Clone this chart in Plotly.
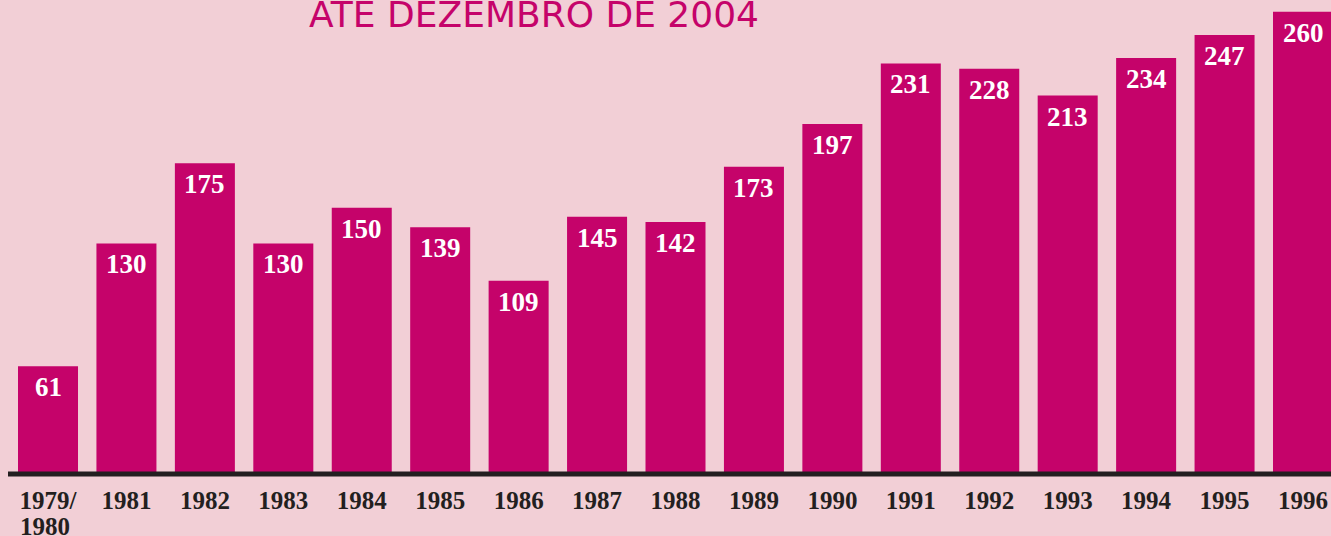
import plotly.graph_objects as go

categories = ["1979/<br>1980", "1981", "1982", "1983", "1984", "1985", "1986", "1987",
              "1988", "1989", "1990", "1991", "1992", "1993", "1994", "1995", "1996"]
values = [61, 130, 175, 130, 150, 139, 109, 145, 142, 173, 197, 231, 228, 213, 234, 247, 260]
title_text = "ATÉ DEZEMBRO DE 2004"

BG = "#F2CFD6"
BAR = "#C5036A"
DARK = "#231F20"
SERIF = "Liberation Serif, DejaVu Serif, serif"

x_idx = list(range(len(categories)))
first_lines = [c.split("<br>")[0] for c in categories]

fig = go.Figure()
fig.add_trace(go.Bar(
    x=x_idx, y=values, marker=dict(color=BAR, line=dict(width=0)),
    hoverinfo="skip",
))

annotations = []
for i, v in zip(x_idx, values):
    annotations.append(dict(
        x=i, y=v, xref="x", yref="y", text=f"<b>{v}</b>", showarrow=False,
        yanchor="middle", yshift=-21,
        font=dict(family=SERIF, size=27, color="white"),
    ))

# second line of multi-line category labels, set a bit tighter than plotly's line spacing
for i, c in zip(x_idx, categories):
    parts = c.split("<br>")
    if len(parts) > 1:
        annotations.append(dict(
            x=i - 0.04, y=0, xref="x", yref="paper", text=f"<b>{parts[1]}</b>",
            showarrow=False, yanchor="top", yshift=-36,
            font=dict(family=SERIF, size=25, color=DARK),
        ))

annotations.append(dict(
    x=534 / 1331, y=1, xref="paper", yref="paper", text=title_text, showarrow=False,
    xanchor="center", yanchor="top", yshift=8,
    font=dict(family="DejaVu Sans, sans-serif", size=36, color=BAR),
))

fig.update_layout(
    width=1331, height=536,
    margin=dict(l=0, r=0, t=0, b=61, autoexpand=False),
    paper_bgcolor=BG, plot_bgcolor=BG,
    bargap=0.235,
    showlegend=False,
    annotations=annotations,
    xaxis=dict(
        range=[-0.612, 16.357], tickmode="array", tickvals=x_idx,
        ticktext=[f"<b>{c}</b>" for c in first_lines],
        tickfont=dict(family=SERIF, size=25, color=DARK),
        ticklabelstandoff=8, automargin=False,
        showgrid=False, zeroline=False, showline=False, ticks="", ticklen=0,
    ),
    yaxis=dict(range=[0, 266.6], visible=False, showgrid=False, zeroline=False,
               automargin=False),
    shapes=[dict(
        type="line", xref="paper", yref="paper", x0=8 / 1331, x1=1, y0=0.002, y1=0.002,
        line=dict(color=DARK, width=5), layer="above",
    )],
)

fig.write_html("out.html")
